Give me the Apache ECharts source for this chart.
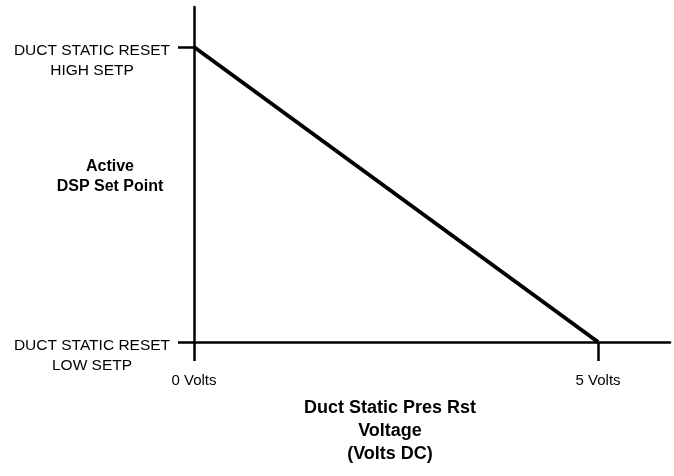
<!DOCTYPE html>
<html>
<head>
<meta charset="utf-8">
<script src="https://cdn.jsdelivr.net/npm/echarts@6/dist/echarts.min.js"></script>
<style>
  html, body { margin: 0; padding: 0; background: #ffffff; }
  #chart { width: 674px; height: 476px; }
</style>
</head>
<body>
<div id="chart"></div>
<script>
// Reset schedule: input voltage against the active duct static set point
// (1 = high set point, 0 = low set point).
const voltage = [0, 5];
const setPoint = [1, 0];

const xTickValues = [0, 5];
const xTickLabels = ['0 Volts', '5 Volts'];
const yTickValues = [0, 1];
const yTickLabels = [['DUCT STATIC RESET', 'LOW SETP'], ['DUCT STATIC RESET', 'HIGH SETP']];

const xAxisTitle = 'Duct Static Pres Rst\nVoltage\n(Volts DC)';
const yAxisTitle = ['Active', 'DSP Set Point'];

const FONT = '"Liberation Sans", Arial, sans-serif';

const chart = echarts.init(document.getElementById('chart'), null, { renderer: 'canvas' });

const lineData = voltage.map((v, i) => [v, setPoint[i]]);

chart.setOption({
  animation: false,
  backgroundColor: '#ffffff',
  grid: { left: 194, right: 4, top: 7, bottom: 134, containLabel: false, outerBoundsMode: 'none' },
  xAxis: {
    type: 'value',
    min: 0,
    max: 5.89,
    splitLine: { show: false },
    axisLine: { show: true, onZero: false, lineStyle: { color: '#000', width: 2.5 } },
    axisTick: {
      show: true,
      customValues: xTickValues,
      length: 19,
      lineStyle: { color: '#000', width: 2.5 }
    },
    axisLabel: {
      show: true,
      customValues: xTickValues,
      formatter: v => xTickLabels[xTickValues.indexOf(v)] || '',
      margin: 31,
      color: '#000',
      fontFamily: FONT,
      fontSize: 15
    },
    name: xAxisTitle,
    nameLocation: 'middle',
    nameGap: 55,
    nameMoveOverlap: false,
    nameTextStyle: {
      color: '#000',
      fontFamily: FONT,
      fontWeight: 'bold',
      fontSize: 18,
      lineHeight: 23,
      align: 'center',
      verticalAlign: 'top',
      padding: [0, 84, 0, 0]
    }
  },
  yAxis: {
    type: 'value',
    min: 0,
    max: 1.1356,
    splitLine: { show: false },
    axisLine: { show: true, onZero: false, lineStyle: { color: '#000', width: 2.5 } },
    axisTick: {
      show: true,
      customValues: yTickValues,
      length: 16,
      lineStyle: { color: '#000', width: 2.5 }
    },
    axisLabel: {
      show: true,
      customValues: yTickValues,
      formatter: v => {
        const lines = yTickLabels[yTickValues.indexOf(v)];
        return lines ? '{a|' + lines[0] + '}\n{b|' + lines[1] + '}' : '';
      },
      margin: 102,
      align: 'center',
      verticalAlign: 'top',
      color: '#000',
      fontFamily: FONT,
      fontSize: 15.5,
      rich: {
        a: { fontFamily: FONT, fontSize: 15.5, color: '#000', lineHeight: 8 },
        b: { fontFamily: FONT, fontSize: 15.5, color: '#000', lineHeight: 32 }
      }
    },
    name: '{a|' + yAxisTitle[0] + '}\n{b|' + yAxisTitle[1] + '}',
    nameLocation: 'middle',
    nameRotate: 0,
    nameGap: 84,
    nameMoveOverlap: false,
    nameTextStyle: {
      color: '#000',
      fontFamily: FONT,
      fontWeight: 'bold',
      fontSize: 16,
      align: 'center',
      verticalAlign: 'middle',
      rich: {
        a: { fontFamily: FONT, fontWeight: 'bold', fontSize: 16, color: '#000', lineHeight: 24 },
        b: { fontFamily: FONT, fontWeight: 'bold', fontSize: 16, color: '#000', lineHeight: 16 }
      }
    }
  },
  series: [{
    type: 'line',
    data: lineData,
    symbol: 'none',
    silent: true,
    lineStyle: { color: '#000', width: 4 }
  }]
});
</script>
</body>
</html>
